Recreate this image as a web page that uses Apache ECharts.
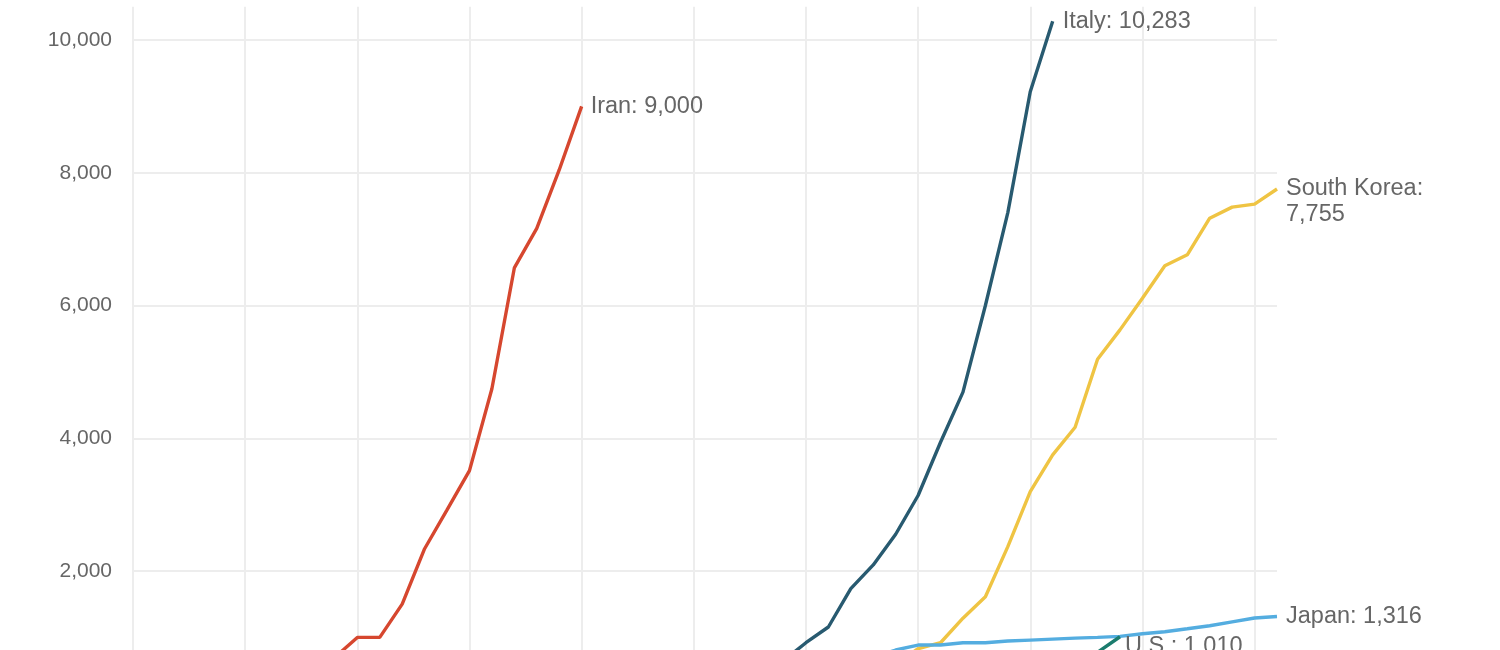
<!DOCTYPE html>
<html>
<head>
<meta charset="utf-8">
<script src="https://cdn.jsdelivr.net/npm/echarts@6/dist/echarts.min.js"></script>
<style>
  html, body { margin: 0; padding: 0; background: #ffffff; overflow: hidden; }
  #chart { width: 1500px; height: 650px; }
</style>
</head>
<body>
<div id="chart"></div>
<script>
// X axis: days (each grid step = 5 days); Y axis: cumulative cases
const yTicks = [0, 2000, 4000, 6000, 8000, 10000];

const countryNames = ['Iran', 'Italy', 'South Korea', 'Japan', 'U.S.'];

const iranStart = 8;
const iranValues = [400, 700, 1000, 1000, 1501, 2336, 2922, 3513, 4747, 6566, 7161, 8042, 9000];

const italyStart = 28;
const italyValues = [400, 650, 920, 1157, 1735, 2092, 2554, 3138, 3940, 4695, 6000, 7400, 9220, 10283];

const koreaStart = 34;
const koreaValues = [600, 830, 920, 1290, 1613, 2367, 3196, 3749, 4166, 5191, 5633, 6110, 6598, 6764, 7316, 7482, 7528, 7755];

const japanStart = 33;
const japanValues = [700, 810, 885, 885, 920, 920, 945, 960, 975, 990, 1000, 1015, 1055, 1086, 1130, 1176, 1235, 1292, 1316];

const usStart = 42;
const usValues = [540, 775, 1010];

const starts = [iranStart, italyStart, koreaStart, japanStart, usStart];
const valuesList = [iranValues, italyValues, koreaValues, japanValues, usValues];
const colors = ['#d6472f', '#285a70', '#efc443', '#54ade0', '#1b7c6e'];

function fmt(v) { return Math.round(v).toLocaleString('en-US'); }

const labelSep = [': ', ': ', ':\n', ': ', ': '];
const labelOffsets = [[0, 0], [0, 0], [0, 12], [0, 0], [0, 10]];
const labelDistance = [9, 10, 9, 9, 5];

const series = countryNames.map((name, i) => {
  const vals = valuesList[i];
  const data = vals.map((v, k) => [starts[i] + k, v]);
  const last = vals[vals.length - 1];
  return {
    name: name,
    type: 'line',
    data: data,
    showSymbol: false,
    symbol: 'none',
    silent: true,
    z: 2 + i,
    lineStyle: { color: colors[i], width: 3.4 },
    itemStyle: { color: colors[i] },
    endLabel: {
      show: true,
      formatter: name + labelSep[i] + fmt(last),
      color: '#666666',
      fontFamily: 'Liberation Sans, Arial, sans-serif',
      fontSize: 23.5,
      lineHeight: 26,
      distance: labelDistance[i],
      offset: labelOffsets[i]
    },
    labelLayout: { hideOverlap: false },
    animation: false
  };
});

const chart = echarts.init(document.getElementById('chart'), null, { renderer: 'canvas' });
chart.setOption({
  animation: false,
  backgroundColor: '#ffffff',
  grid: { left: 133, top: 6.8, width: 1144, height: 697, containLabel: false, outerBoundsMode: 'none' },
  xAxis: {
    type: 'value',
    min: 0,
    max: 51,
    interval: 5,
    axisLine: { show: false },
    axisTick: { show: false },
    axisLabel: { show: false },
    splitLine: { show: true, showMaxLine: false, lineStyle: { color: '#ededed', width: 2 } }
  },
  yAxis: {
    type: 'value',
    min: yTicks[0],
    max: 10500,
    interval: 2000,
    axisLine: { show: false },
    axisTick: { show: false },
    axisLabel: {
      show: true,
      showMaxLabel: false,
      margin: 21,
      color: '#666666',
      fontFamily: 'Liberation Sans, Arial, sans-serif',
      fontSize: 21,
      formatter: function (v) { return yTicks.indexOf(v) >= 0 ? fmt(v) : ''; }
    },
    splitLine: { show: true, showMaxLine: false, lineStyle: { color: '#ededed', width: 2 } }
  },
  series: series
});
</script>
</body>
</html>
